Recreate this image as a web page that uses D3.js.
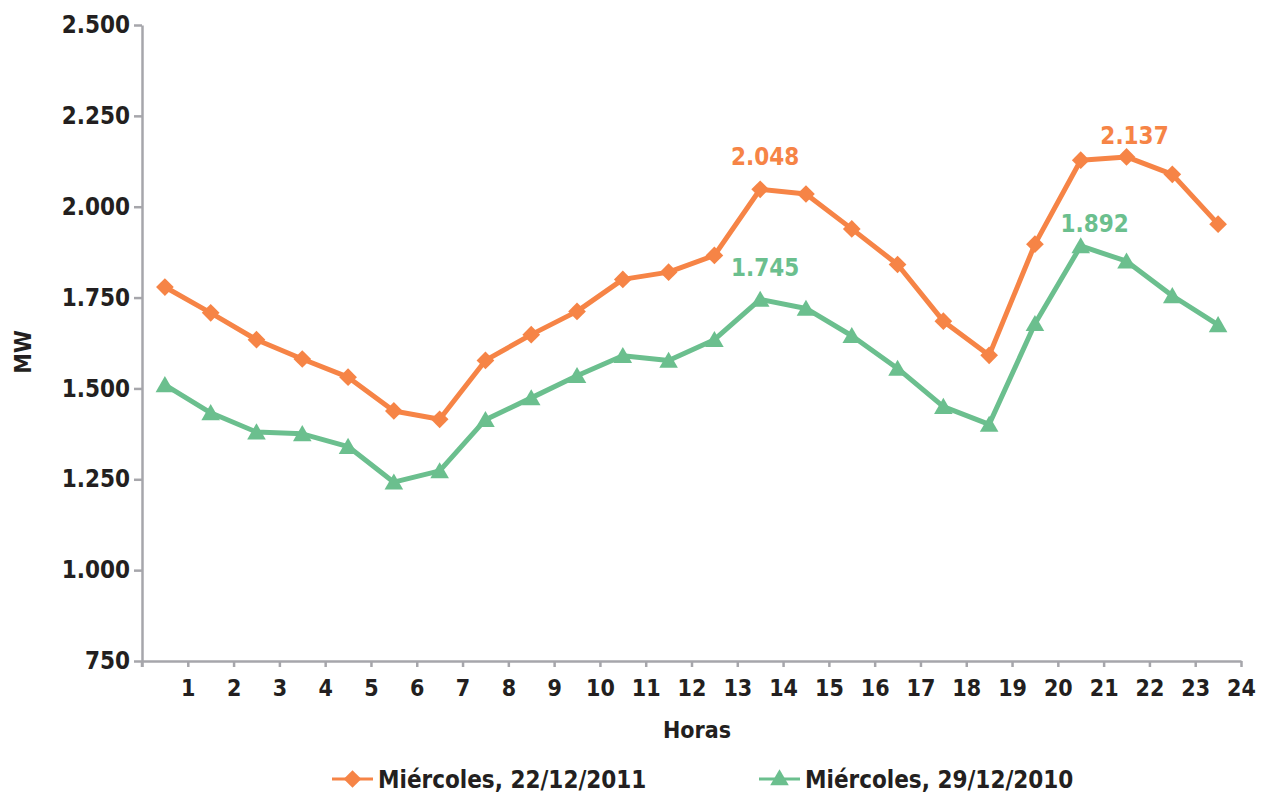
<!DOCTYPE html>
<html>
<head>
<meta charset="utf-8">
<script src="https://cdn.jsdelivr.net/npm/d3@7"></script>
<style>
  body { margin: 0; background: #fff; }
  svg text { font-family: "DejaVu Sans Condensed", "DejaVu Sans", sans-serif; font-weight: bold; fill: #231f20; }
  .axis path, .axis line { stroke: #a6a6ab; stroke-width: 2.5; }
</style>
</head>
<body>
<svg id="chart" width="1269" height="794"></svg>
<script>
// horas del dia
var horas = d3.range(1, 25);
var yTicks = [750, 1000, 1250, 1500, 1750, 2000, 2250, 2500];

var serie2011 = [1779, 1708, 1634, 1581, 1531, 1438, 1415, 1577, 1648, 1712, 1800, 1820, 1866,
                 2048, 2035, 1939, 1841, 1685, 1591, 1897, 2128, 2137, 2089, 1952];
var serie2010 = [1510, 1433, 1380, 1375, 1340, 1242, 1273, 1414, 1474, 1535, 1590, 1577, 1634,
                 1745, 1720, 1645, 1555, 1450, 1401, 1678, 1892, 1850, 1755, 1675];

var nombres = ["Miércoles, 22/12/2011", "Miércoles, 29/12/2010"];
var colores = ["#f68446", "#6bbf8e"];

// etiquetas de maximos: [serie, indice hora]
var etiquetas = [[0, 13, 5, -24], [0, 21, 8, -13], [1, 13, 5, -23], [1, 20, 14, -14]];

var es = d3.formatLocale({decimal: ",", thousands: ".", grouping: [3], currency: ["", "€"]});
var fmt = es.format(",d");

var svg = d3.select("#chart");
var x = d3.scaleLinear().domain([0, 24]).range([142, 1241]);
var y = d3.scaleLinear().domain([750, 2500]).range([661, 25]);

// eje y
svg.append("g").attr("class", "axis")
  .attr("transform", "translate(142,0)")
  .call(d3.axisLeft(y).tickValues(yTicks).tickSize(8).tickPadding(4).tickSizeOuter(0).tickFormat(fmt))
  .call(function(g){ g.selectAll("text").style("font-size", "24px"); })
  .append("line").attr("x1", 0).attr("x2", 0).attr("y1", 661).attr("y2", 667);

// eje x
svg.append("g").attr("class", "axis")
  .attr("transform", "translate(0,661)")
  .call(d3.axisBottom(x).tickValues(d3.range(0, 25)).tickSize(6).tickPadding(13).tickSizeOuter(0)
        .tickFormat(function(d){ return d === 0 ? "" : d; }))
  .call(function(g){ g.selectAll("text").style("font-size", "23px"); });

svg.selectAll(".axis path.domain").attr("stroke", "#a6a6ab");

svg.append("text").attr("x", 697).attr("y", 738).attr("text-anchor", "middle")
  .style("font-size", "23px").text("Horas");
svg.append("text").attr("transform", "translate(31,352) rotate(-90)").attr("text-anchor", "middle")
  .style("font-size", "23px").text("MW");

var line = d3.line().x(function(d, i){ return x(i + 0.5); }).y(function(d){ return y(d); });
var diamante = d3.symbol().type(d3.symbolDiamond2).size(200);
var triangulo = d3.symbol().type(d3.symbolTriangle).size(150);
var series = [serie2011, serie2010];
var simbolos = [diamante, triangulo];

series.forEach(function(s, k){
  svg.append("path").datum(s).attr("d", line)
    .attr("fill", "none").attr("stroke", colores[k]).attr("stroke-width", 5).attr("stroke-linejoin", "round");
  svg.selectAll(".m" + k).data(s).enter().append("path")
    .attr("class", "m" + k)
    .attr("d", simbolos[k])
    .attr("transform", function(d, i){ return "translate(" + x(i + 0.5) + "," + (y(d) + (k === 1 ? 2 : 0)) + ")"; })
    .attr("fill", colores[k]);
});

etiquetas.forEach(function(e){
  var v = series[e[0]][e[1]];
  svg.append("text")
    .attr("x", x(e[1] + 0.5) + e[2]).attr("y", y(v) + e[3])
    .attr("text-anchor", "middle").style("font-size", "24px")
    .style("fill", colores[e[0]]).text(fmt(v));
});

// leyenda
var leyX = [332, 759];
nombres.forEach(function(n, k){
  var g = svg.append("g").attr("transform", "translate(" + leyX[k] + ",779)");
  g.append("line").attr("x1", 0).attr("x2", 41).attr("stroke", colores[k]).attr("stroke-width", 3);
  g.append("path").attr("d", simbolos[k]).attr("transform", "translate(20.5," + (k === 1 ? 1 : 0) + ")").attr("fill", colores[k]);
  g.append("text").attr("x", 46).attr("y", 9).style("font-size", "24px").text(n);
});
</script>
</body>
</html>
